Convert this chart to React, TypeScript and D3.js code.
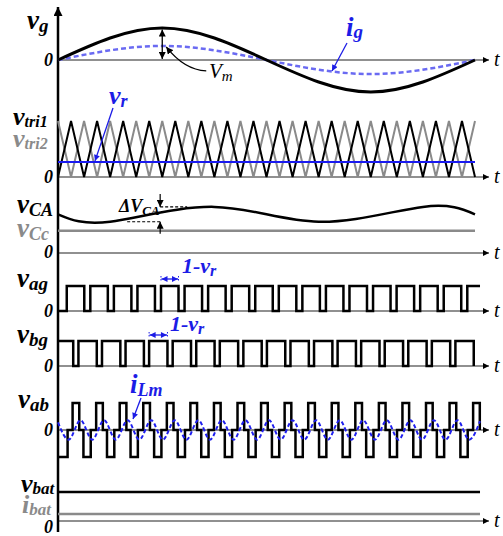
import { useEffect, useRef } from 'react'
import * as d3 from 'd3'

const W = 503
const H = 536

// one grid line cycle, ms
const gridT = [0, 5, 10, 15, 20]
const vgVals = [0, 1, 0, -1, 0]
const igVals = [0, 0.44, 0, -0.44, 0]

// carrier vertices (16 carrier periods over the cycle)
const tri1Vals = [0, 1, 0, 1, 0, 1, 0, 1, 0, 1, 0, 1, 0, 1, 0, 1, 0, 1, 0, 1, 0, 1, 0, 1, 0, 1, 0, 1, 0, 1, 0, 1, 0]
const tri2Vals = [1, 0, 1, 0, 1, 0, 1, 0, 1, 0, 1, 0, 1, 0, 1, 0, 1, 0, 1, 0, 1, 0, 1, 0, 1, 0, 1, 0, 1, 0, 1, 0, 1]
const vrLevel = 0.27

// capacitor voltages
const vcaT = [0, 2.5, 7.5, 12.5, 17.5, 20]
const vcaVals = [0.73, 0.59, 0.87, 0.59, 0.87, 0.73]
const vccLevel = 0.42

// switching edges, ms
const agRise = [0.42, 1.55, 2.68, 3.81, 4.94, 6.07, 7.2, 8.33, 9.46, 10.59, 11.72, 12.85, 13.98, 15.11, 16.24, 17.37, 18.5, 19.63]
const agFall = [1.26, 2.39, 3.52, 4.65, 5.78, 6.91, 8.04, 9.17, 10.3, 11.43, 12.56, 13.69, 14.82, 15.95, 17.08, 18.21, 19.34]
const bgFall = [0.73, 1.86, 2.99, 4.12, 5.25, 6.38, 7.51, 8.64, 9.77, 10.9, 12.03, 13.16, 14.29, 15.42, 16.55, 17.68, 18.81, 19.94]
const bgRise = [0.98, 2.11, 3.24, 4.37, 5.5, 6.63, 7.76, 8.89, 10.02, 11.15, 12.28, 13.41, 14.54, 15.67, 16.8, 17.93, 19.06]
const abPosOn = [0.7, 1.83, 2.96, 4.09, 5.22, 6.35, 7.48, 8.61, 9.74, 10.87, 12.0, 13.13, 14.26, 15.39, 16.52, 17.65, 18.78, 19.91]
const abPosOff = [1.02, 2.15, 3.28, 4.41, 5.54, 6.67, 7.8, 8.93, 10.06, 11.19, 12.32, 13.45, 14.58, 15.71, 16.84, 17.97, 19.1, 20.23]
const abNegOn = [0, 1.22, 2.35, 3.48, 4.61, 5.74, 6.87, 8.0, 9.13, 10.26, 11.39, 12.52, 13.65, 14.78, 15.91, 17.04, 18.17, 19.3]
const abNegOff = [0.46, 1.57, 2.7, 3.83, 4.96, 6.09, 7.22, 8.35, 9.48, 10.61, 11.74, 12.87, 14.0, 15.13, 16.26, 17.39, 18.52, 19.65]
const pulseEnd = 20.24

// magnetizing current extrema
const ilmTroughT = [0.51, 1.64, 2.77, 3.9, 5.03, 6.16, 7.29, 8.42, 9.55, 10.68, 11.81, 12.94, 14.07, 15.2, 16.33, 17.46, 18.59, 19.72]
const ilmPeakT = [1.08, 2.21, 3.34, 4.47, 5.6, 6.73, 7.86, 8.99, 10.12, 11.25, 12.38, 13.51, 14.64, 15.77, 16.9, 18.03, 19.16]
const ilmAmp = 0.36
const ilmStart = 0.28
const ilmEnd = 0.33

const vbatLevel = 1
const ibatLevel = 0.24

const FONT = '"Liberation Serif", "Times New Roman", serif'
const BLUE = '#1c1ce6'
const GREY = '#8a8a8a'

export default function App() {
    const ref = useRef<SVGSVGElement>(null)

    useEffect(() => {
        const svg = d3.select(ref.current)
        svg.selectAll('*').remove()

        const defs = svg.append('defs')
        const mk = (id: string, color: string, w: number, h: number) => {
            defs.append('marker')
                .attr('id', id)
                .attr('viewBox', '0 0 10 10')
                .attr('refX', 10).attr('refY', 5)
                .attr('markerUnits', 'userSpaceOnUse')
                .attr('markerWidth', w).attr('markerHeight', h)
                .attr('orient', 'auto-start-reverse')
                .append('path')
                .attr('d', 'M0,0L10,5L0,10Z')
                .attr('fill', color)
        }
        mk('axArrow', '#000', 8, 6)
        mk('vArrow', '#000', 13, 9)
        mk('blkArrow', '#000', 7, 7)
        mk('blueArrow', BLUE, 7, 6)

        const x = d3.scaleLinear().domain([0, 20]).range([58, 475])

        const yGrid = d3.scaleLinear().domain([-1, 1]).range([92, 28])
        const yTri = d3.scaleLinear().domain([0, 1]).range([177, 121])
        const yCap = d3.scaleLinear().domain([0, 1]).range([253, 200])
        const yAg = d3.scaleLinear().domain([0, 1]).range([311, 286])
        const yBg = d3.scaleLinear().domain([0, 1]).range([366, 341])
        const yAb = d3.scaleLinear().domain([-1, 1]).range([457, 403])
        const yBat = d3.scaleLinear().domain([0, 1]).range([521, 492])

        const label = (px: number, py: number, main: string, sub: string, color: string,
            size = 26, subSize = 17, weight = 'bold', dy = 4) => {
            const t = svg.append('text')
                .attr('x', px).attr('y', py)
                .attr('font-family', FONT)
                .attr('font-style', 'italic')
                .attr('font-weight', weight)
                .attr('font-size', size)
                .attr('fill', color)
            t.append('tspan').text(main)
            if (sub) t.append('tspan').attr('dy', dy).attr('font-size', subSize).text(sub)
        }

        // zero lines with arrows + t, and 0 labels
        const zeros = [yGrid(0), yTri(0), yCap(0), yAg(0), yBg(0), yAb(0), yBat(0)]
        const zeroLabelDy = [6, 6, 5, 6, 6, 6, 12]
        zeros.forEach((zy, i) => {
            svg.append('line')
                .attr('x1', 58).attr('x2', 489)
                .attr('y1', zy).attr('y2', zy)
                .attr('stroke', '#222').attr('stroke-width', 1.2)
                .attr('marker-end', 'url(#axArrow)')
            svg.append('text')
                .attr('x', 494).attr('y', zy + 6)
                .attr('font-family', FONT).attr('font-style', 'italic')
                .attr('font-size', 20).text('t')
            svg.append('text')
                .attr('x', 44).attr('y', zy + zeroLabelDy[i])
                .attr('font-family', FONT).attr('font-style', 'italic').attr('font-weight', 'bold')
                .attr('font-size', 18).text('0')
        })

        // vertical main axis
        svg.append('line')
            .attr('x1', 58).attr('x2', 58)
            .attr('y1', 532).attr('y2', 7)
            .attr('stroke', '#000').attr('stroke-width', 2.5)
            .attr('marker-end', 'url(#vArrow)')

        // --- panel 1: grid voltage and current
        const gridLine = (vals: number[]) => d3.line<number>()
            .x((_, i) => x(gridT[i]))
            .y((d) => yGrid(d))
            .curve(d3.curveNatural)(vals)
        svg.append('path').attr('d', gridLine(igVals))
            .attr('fill', 'none').attr('stroke', '#6a6af2').attr('stroke-width', 2.5)
            .attr('stroke-dasharray', '5,3')
        svg.append('path').attr('d', gridLine(vgVals))
            .attr('fill', 'none').attr('stroke', '#000').attr('stroke-width', 3)

        svg.append('line')
            .attr('x1', x(5)).attr('x2', x(5))
            .attr('y1', yGrid(0) - 1).attr('y2', yGrid(1) + 1.5)
            .attr('stroke', '#000').attr('stroke-width', 1.3)
            .attr('marker-start', 'url(#blkArrow)').attr('marker-end', 'url(#blkArrow)')
        svg.append('path')
            .attr('d', `M${x(5) + 4},${yGrid(igVals[1]) + 1} Q${x(5) + 22},${yGrid(igVals[1]) + 24} ${x(5) + 44},${yGrid(igVals[1]) + 25}`)
            .attr('fill', 'none').attr('stroke', '#000').attr('stroke-width', 1.3)
            .attr('marker-start', 'url(#blkArrow)')
        label(209, 78, 'V', 'm', '#000', 21, 15, 'normal', 3)

        label(346, 36, 'i', 'g', BLUE, 27, 19, 'bold', 2)
        svg.append('line')
            .attr('x1', 347).attr('y1', 43).attr('x2', 332).attr('y2', 71)
            .attr('stroke', BLUE).attr('stroke-width', 1.3)
            .attr('marker-end', 'url(#blueArrow)')
        label(27, 29, 'v', 'g', '#000', 27, 19, 'bold', 3)

        // --- panel 2: carriers
        const triX = d3.scaleLinear().domain([0, tri1Vals.length - 1]).range([0, 20])
        const triLine = d3.line<number>()
            .x((_, i) => x(triX(i)))
            .y((d) => yTri(d))
        svg.append('path').attr('d', triLine(tri2Vals))
            .attr('fill', 'none').attr('stroke', GREY).attr('stroke-width', 2)
        svg.append('path').attr('d', triLine(tri1Vals))
            .attr('fill', 'none').attr('stroke', '#000').attr('stroke-width', 2)
        svg.append('line')
            .attr('x1', x(0)).attr('x2', x(20))
            .attr('y1', yTri(vrLevel)).attr('y2', yTri(vrLevel))
            .attr('stroke', '#1a1af0').attr('stroke-width', 2)
        label(109, 104, 'v', 'r', BLUE, 26, 18, 'bold', 3)
        svg.append('line')
            .attr('x1', 113).attr('y1', 108).attr('x2', 95).attr('y2', yTri(vrLevel) - 1)
            .attr('stroke', BLUE).attr('stroke-width', 1.3)
            .attr('marker-end', 'url(#blueArrow)')
        label(13, 125, 'v', 'tri1', '#000', 26, 16, 'bold', 2)
        label(13, 147, 'v', 'tri2', GREY, 26, 16, 'bold', 2)

        // --- panel 3: capacitor voltages
        svg.append('line')
            .attr('x1', x(0)).attr('x2', x(20))
            .attr('y1', yCap(vccLevel)).attr('y2', yCap(vccLevel))
            .attr('stroke', GREY).attr('stroke-width', 2.5)
        svg.append('path')
            .attr('d', d3.line<number>()
                .x((_, i) => x(vcaT[i]))
                .y((d) => yCap(d))
                .curve(d3.curveNatural)(vcaVals))
            .attr('fill', 'none').attr('stroke', '#000').attr('stroke-width', 2.5)
        const capHi = yCap(d3.max(vcaVals)!)
        const capLo = yCap(d3.min(vcaVals)!)
        const ax = x(4.9)
        svg.append('line').attr('x1', ax).attr('x2', ax + 27).attr('y1', capHi).attr('y2', capHi)
            .attr('stroke', '#000').attr('stroke-width', 1.2).attr('stroke-dasharray', '3,2')
        svg.append('line').attr('x1', ax - 33).attr('x2', ax).attr('y1', capLo).attr('y2', capLo)
            .attr('stroke', '#000').attr('stroke-width', 1.2).attr('stroke-dasharray', '3,2')
        svg.append('line').attr('x1', ax).attr('x2', ax).attr('y1', capHi - 13).attr('y2', capHi)
            .attr('stroke', '#000').attr('stroke-width', 1.2).attr('marker-end', 'url(#blkArrow)')
        svg.append('line').attr('x1', ax).attr('x2', ax).attr('y1', capLo + 12).attr('y2', capLo)
            .attr('stroke', '#000').attr('stroke-width', 1.2).attr('marker-end', 'url(#blkArrow)')
        label(119, 212, 'ΔV', 'CA', '#000', 18, 13, 'bold', 3)
        label(17, 213, 'v', 'CA', '#000', 27, 18, 'bold', 3)
        label(17, 237, 'v', 'Cc', GREY, 27, 18, 'bold', 3)

        // --- step waveforms
        const stepPath = (pts: [number, number][], ys: d3.ScaleLinear<number, number>) =>
            d3.line<[number, number]>()
                .x((d) => x(d[0]))
                .y((d) => ys(d[1]))
                .curve(d3.curveStepAfter)(pts.sort((a, b) => a[0] - b[0]))

        const agPts: [number, number][] = [[0, 0], ...agRise.map((t) => [t, 1] as [number, number]),
            ...agFall.map((t) => [t, 0] as [number, number]), [pulseEnd, 1]]
        const bgPts: [number, number][] = [[0, 1], ...bgFall.map((t) => [t, 0] as [number, number]),
            ...bgRise.map((t) => [t, 1] as [number, number])]
        const abPts: [number, number][] = [
            ...abNegOn.map((t) => [t, -1] as [number, number]),
            ...abNegOff.map((t) => [t, 0] as [number, number]),
            ...abPosOn.map((t) => [t, 1] as [number, number]),
            ...abPosOff.map((t) => [t, 0] as [number, number])]

        svg.append('path').attr('d', stepPath(agPts, yAg))
            .attr('fill', 'none').attr('stroke', '#000').attr('stroke-width', 2.5)
        svg.append('path').attr('d', stepPath(bgPts, yBg))
            .attr('fill', 'none').attr('stroke', '#000').attr('stroke-width', 2.5)
        svg.append('path').attr('d', stepPath(abPts, yAb))
            .attr('fill', 'none').attr('stroke', '#000').attr('stroke-width', 2.5)

        // 1 - v_r annotations
        const dblArrow = (t0: number, t1: number, yy: number) => {
            svg.append('line')
                .attr('x1', x(t0) + 0.5).attr('x2', x(t1) - 0.5)
                .attr('y1', yy).attr('y2', yy)
                .attr('stroke', BLUE).attr('stroke-width', 1.3)
                .attr('marker-start', 'url(#blueArrow)').attr('marker-end', 'url(#blueArrow)')
            svg.append('line').attr('x1', x(t0)).attr('x2', x(t0)).attr('y1', yy - 3).attr('y2', yy + 3)
                .attr('stroke', BLUE).attr('stroke-width', 1).attr('stroke-dasharray', '1.5,1.5')
            svg.append('line').attr('x1', x(t1)).attr('x2', x(t1)).attr('y1', yy - 3).attr('y2', yy + 3)
                .attr('stroke', BLUE).attr('stroke-width', 1).attr('stroke-dasharray', '1.5,1.5')
        }
        dblArrow(agRise[4], agFall[4], yAg(1) - 7)
        dblArrow(bgRise[3], bgFall[4], yBg(1) - 6)
        label(182, 273, '1-v', 'r', BLUE, 22, 16, 'bold', 3)
        label(170, 331, '1-v', 'r', BLUE, 22, 16, 'bold', 3)
        label(17, 287, 'v', 'ag', '#000', 27, 19, 'bold', 3)
        label(17, 343, 'v', 'bg', '#000', 27, 19, 'bold', 3)

        // --- panel 6: magnetizing current
        const ilmPts: [number, number][] = [[0, ilmStart],
            ...ilmTroughT.map((t) => [t, -ilmAmp] as [number, number]),
            ...ilmPeakT.map((t) => [t, ilmAmp] as [number, number]),
            [pulseEnd, ilmEnd]].sort((a, b) => a[0] - b[0])
        svg.append('path')
            .attr('d', d3.line<[number, number]>()
                .x((d) => x(d[0]))
                .y((d) => yAb(d[1]))
                .curve(d3.curveMonotoneX)(ilmPts))
            .attr('fill', 'none').attr('stroke', '#1f1fee').attr('stroke-width', 2)
            .attr('stroke-dasharray', '4,2.5')
        label(130, 393, 'i', 'Lm', BLUE, 27, 18, 'bold', 3)
        svg.append('line')
            .attr('x1', 141).attr('y1', 398).attr('x2', 133).attr('y2', 419)
            .attr('stroke', BLUE).attr('stroke-width', 1.3)
            .attr('marker-end', 'url(#blueArrow)')
        label(18, 408, 'v', 'ab', '#000', 27, 19, 'bold', 3)

        // --- panel 7: battery
        svg.append('line')
            .attr('x1', x(0)).attr('x2', x(pulseEnd))
            .attr('y1', yBat(vbatLevel)).attr('y2', yBat(vbatLevel))
            .attr('stroke', '#000').attr('stroke-width', 2.5)
        svg.append('line')
            .attr('x1', x(0)).attr('x2', x(pulseEnd))
            .attr('y1', yBat(ibatLevel)).attr('y2', yBat(ibatLevel))
            .attr('stroke', GREY).attr('stroke-width', 2.5)
        label(21, 492, 'v', 'bat', '#000', 26, 17, 'bold', 2)
        label(22, 513, 'i', 'bat', GREY, 26, 17, 'bold', 2)
    }, [])

    return (
        <svg ref={ref} width={W} height={H}
            style={{ position: 'absolute', left: 0, top: 0, background: '#fff' }} />
    )
}
